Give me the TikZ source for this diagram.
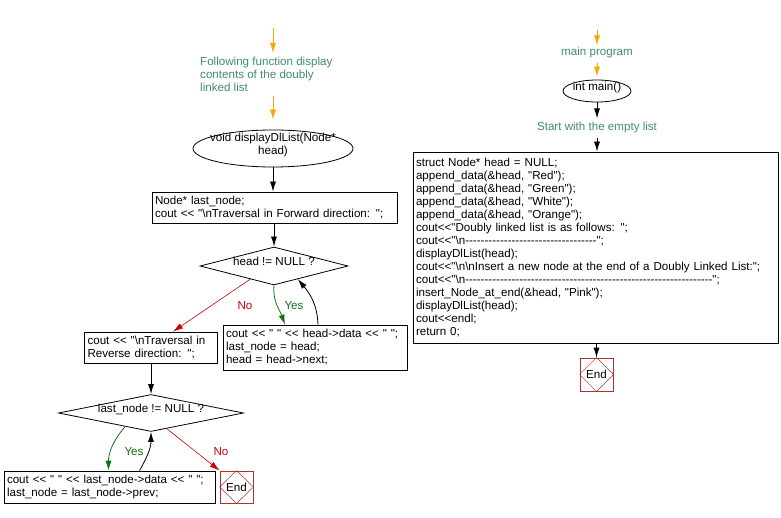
\documentclass[tikz,border=0pt]{standalone}
\usepackage{fontspec}
\setmainfont{Liberation Sans}[Ligatures=TeXOff]
\usetikzlibrary{shapes.geometric,arrows.meta,calc}
\definecolor{noteC}{RGB}{64,140,110}
\definecolor{orgC}{RGB}{255,165,0}
\definecolor{noC}{RGB}{204,0,0}
\definecolor{yesC}{RGB}{20,110,20}
\definecolor{endC}{RGB}{170,50,50}
\tikzset{
  every node/.style={font=\fontsize{11.6}{13}\selectfont},
  box/.style={draw, line width=0.8pt, inner xsep=3pt, inner ysep=0pt, align=left},
  ell/.style={draw, ellipse, inner sep=0pt, line width=0.8pt},
  dia/.style={draw, diamond, inner sep=0pt, line width=0.8pt},
  endbox/.style={draw=endC, line width=0.8pt, minimum width=33pt, minimum height=32pt, inner sep=0pt},
  note/.style={text=noteC, inner sep=1pt},
  arr/.style={-{Latex[length=10pt,width=6pt]}, line width=0.8pt},
  oarr/.style={arr, draw=orgC},
  noarr/.style={arr, draw=noC, line width=0.6pt},
  yesarr/.style={arr, draw=yesC},
}
\newcommand{\zc}[1]{\smash{\makebox[0pt]{\begin{tabular}{@{}c@{}}#1\end{tabular}}}}
\begin{document}
\begin{tikzpicture}[x=1pt,y=1pt]
\useasboundingbox (0,0) rectangle (781,-518);
% ---------- left column ----------
\coordinate (s1) at (273,-28);
\node[note, anchor=north west, align=left] (t1) at (199,-56) {Following function display\\contents of the doubly\\linked list};
\node[ell, minimum width=160pt, minimum height=37pt] (e1) at (273,-148.5) {\zc{void displayDlList(Node*\\head)}};
\node[box, text width=239pt, minimum height=31pt] (b1) at (274.5,-207.5) {\mbox{Node* last\_node;}\\\mbox{cout << "\textbackslash nTraversal in Forward direction: ";}};
\node[dia, minimum width=148pt, minimum height=38pt] (d1) at (274,-266) {\zc{head != NULL ?}};
\node[box, text width=178pt, minimum height=45pt] (b2) at (315,-347.5) {\mbox{cout << " " << head->data << " ";}\\last\_node = head;\\head = head->next;};
\node[box, text width=127pt, minimum height=31pt] (b3) at (151,-347.5) {\mbox{cout << "\textbackslash nTraversal in}\\\mbox{Reverse direction: ";}};
\node[dia, minimum width=185pt, minimum height=37pt] (d2) at (151,-413) {\zc{last\_node != NULL ?}};
\node[box, text width=205pt, minimum height=32pt] (b4) at (109.5,-487) {\mbox{cout << " " << last\_node->data << " ";}\\\mbox{last\_node = last\_node->prev;}};
\node[endbox] (end1) at (236.5,-487) {End};
\draw[endC, line width=0.5pt] (end1.north) -- (end1.east) -- (end1.south) -- (end1.west) -- cycle;

\node[text=noC] (l1) at (245,-306) {No};
\node[text=yesC] (l2) at (294,-306) {Yes};
\node[text=yesC] (l3) at (134,-452) {Yes};
\node[text=noC] (l4) at (221,-452) {No};

\draw[oarr] (s1) -- ([yshift=3pt]s1 |- t1.north);
\draw[oarr] ([yshift=-3pt]s1 |- t1.south) -- ([yshift=10pt]e1.north);
\draw[arr] (e1.south) -- (b1.north -| e1.south);
\draw[arr] (b1.south -| d1.north) -- (d1.north);
\draw[noarr] ($(d1.south)!0.32!(d1.west)$) -- ([xshift=22pt]b3.north);
\draw[yesarr] (d1.south) to[out=-95,in=110] ([xshift=-30pt]b2.north);
\draw[arr] ([xshift=3pt]b2.north) to[out=92,in=-50] ($(d1.south)!0.32!(d1.east)$);
\draw[arr] (b3.south) -- (d2.north);
\draw[yesarr] ($(d2.south)!0.28!(d2.west)$) to[out=-130,in=90] ([xshift=-1pt]b4.north);
\draw[arr] ([xshift=30pt]b4.north) to[out=60,in=-90] (d2.south);
\draw[noarr] ($(d2.south)!0.17!(d2.east)$) -- (end1.north west);

% ---------- right column ----------
\coordinate (s2) at (597,-30);
\node[note] (t2) at (597,-53) {main program};
\node[ell, minimum width=68pt, minimum height=22pt] (e2) at (597,-91) {\zc{int main()}};
\node[note] (t3) at (597,-128) {Start with the empty list};
\node[box, text width=359pt, minimum height=191pt] (big) at (595.5,-247.5) {struct Node* head = NULL;\\
append\_data(\&head, "Red");\\
append\_data(\&head, "Green");\\
append\_data(\&head, "White");\\
append\_data(\&head, "Orange");\\
cout<<"Doubly linked list is as follows: ";\\
cout<<"\textbackslash n----------------------------------";\\
displayDlList(head);\\
\mbox{cout<<"\textbackslash n\textbackslash nInsert a new node at the end of a Doubly Linked List:";}\\
\mbox{cout<<"\textbackslash n----------------------------------------------------------------";}\\
insert\_Node\_at\_end(\&head, "Pink");\\
displayDlList(head);\\
cout<<endl;\\
return 0;};
\node[endbox, minimum height=33pt] (end2) at (596.5,-374.5) {End};
\draw[endC, line width=0.5pt] (end2.north) -- (end2.east) -- (end2.south) -- (end2.west) -- cycle;

\draw[oarr] (s2) -- ([yshift=1pt]t2.north);
\draw[oarr] ([yshift=-3pt]t2.south) -- ([yshift=3pt]e2.north);
\draw[arr] (e2.south) -- ([yshift=3pt]t3.north);
\draw[arr] ([yshift=-3pt]t3.south) -- (big.north -| t3.south);
\draw[arr] (big.south -| end2.north) -- (end2.north);
\end{tikzpicture}
\end{document}
